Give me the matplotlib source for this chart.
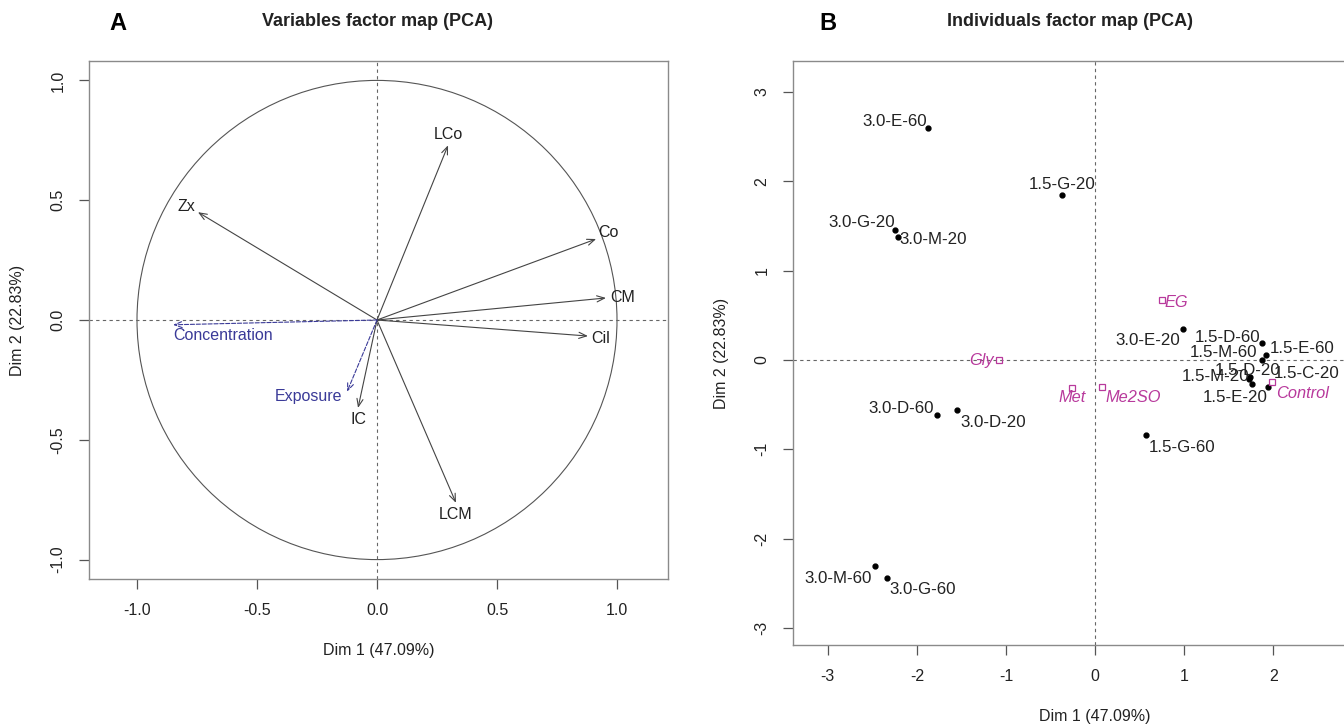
import matplotlib.pyplot as plt
from matplotlib.patches import Circle

plt.rcParams['font.family'] = ['Liberation Sans', 'DejaVu Sans']
plt.rcParams['axes.unicode_minus'] = False

# --- panel A: variables (correlation circle) ---
var_names = ['LCo', 'Zx', 'Co', 'CM', 'Cil', 'IC', 'LCM']
var_x = [0.296, -0.746, 0.913, 0.954, 0.879, -0.079, 0.329]
var_y = [0.729, 0.450, 0.338, 0.092, -0.067, -0.367, -0.763]

sup_names = ['Concentration', 'Exposure']
sup_x = [-0.85, -0.125]
sup_y = [-0.02, -0.30]

# --- panel B: individuals + supplementary categories ---
ind_names = ['3.0-E-60', '1.5-G-20', '3.0-G-20', '3.0-M-20', '3.0-D-60', '3.0-D-20',
             '1.5-G-60', '3.0-M-60', '3.0-G-60', '3.0-E-20', '1.5-D-60', '1.5-M-60',
             '1.5-E-60', '1.5-D-20', '1.5-M-20', '1.5-E-20', '1.5-C-20']
ind_x = [-1.87, -0.37, -2.24, -2.21, -1.77, -1.55, 0.57, -2.47, -2.33, 0.99, 1.88, 1.87,
         1.92, 1.74, 1.73, 1.76, 1.94]
ind_y = [2.60, 1.85, 1.46, 1.38, -0.62, -0.56, -0.84, -2.31, -2.44, 0.35, 0.19, 0.00,
         0.06, -0.19, -0.21, -0.27, -0.30]

cat_names = ['Gly', 'Met', 'Me2SO', 'EG', 'Control']
cat_x = [-1.08, -0.26, 0.08, 0.75, 1.99]
cat_y = [0.00, -0.31, -0.30, 0.67, -0.25]

# label offsets in pixels (dx, dy, ha, va)
var_off = {'LCo': (0, 3, 'center', 'bottom'), 'Zx': (-3, 6, 'right', 'center'),
           'Co': (2, 7, 'left', 'center'), 'CM': (4, 0, 'left', 'center'),
           'Cil': (3, -2, 'left', 'center'), 'IC': (0, -4, 'center', 'top'),
           'LCM': (0, -4, 'center', 'top')}
sup_off = {'Concentration': (0, -3, 'left', 'top'), 'Exposure': (-5, -5, 'right', 'center')}
ind_off = [(-34, 6), (0, 10), (-34, 7), (35, -3), (-36, 7), (36, -12), (36, -12), (-37, -12),
           (35, -12), (-35, -12), (-35, 6), (-38, 8), (36, 6), (-2, 6), (-34, 2), (-17, -13),
           (39, 13)]
cat_off = [(-17, 0), (0, -10), (31, -11), (14, -2), (30, -11)]

px = 0.72  # pixel -> point at dpi 100
spine_col = '#8a8a8a'
txt_col = '#222222'
magenta = '#b8399c'
blue = '#3a3a98'

fig = plt.figure(figsize=(13.44, 7.27), dpi=100)

axA = fig.add_axes([89 / 1344, 1 - 579 / 727, 579 / 1344, 518 / 727])
axB = fig.add_axes([793 / 1344, 1 - 645 / 727, 604 / 1344, 584 / 727])

for ax in (axA, axB):
    for s in ax.spines.values():
        s.set_color(spine_col)
        s.set_linewidth(1.0)
    ax.tick_params(direction='out', length=7, width=0.9, color='#555555', pad=10,
                   labelsize=11.5, labelcolor=txt_col)
    ax.axhline(0, color='#666666', lw=0.8, ls=(0, (3, 3)))
    ax.axvline(0, color='#666666', lw=0.8, ls=(0, (3, 3)))

# panel A
axA.set_xlim(-1.2, 1.2125)
axA.set_ylim(-1.081, 1.081)
axA.set_xticks([-1.0, -0.5, 0.0, 0.5, 1.0])
axA.set_xticklabels(['-1.0', '-0.5', '0.0', '0.5', '1.0'])
axA.set_yticks([-1.0, -0.5, 0.0, 0.5, 1.0])
axA.set_yticklabels(['-1.0', '-0.5', '0.0', '0.5', '1.0'], rotation=90, va='center')
axA.add_patch(Circle((0, 0), 1.0, fill=False, color='#555555', lw=0.8))

for n, x, y in zip(var_names, var_x, var_y):
    axA.annotate('', xy=(x, y), xytext=(0, 0),
                 arrowprops=dict(arrowstyle='->,head_length=0.55,head_width=0.22',
                                 color='#444444', lw=0.8, shrinkA=0, shrinkB=0))
    dx, dy, ha, va = var_off[n]
    axA.annotate(n, xy=(x, y), xytext=(dx * px, dy * px), textcoords='offset points',
                 ha=ha, va=va, fontsize=11.5, color=txt_col)

for n, x, y in zip(sup_names, sup_x, sup_y):
    axA.annotate('', xy=(x, y), xytext=(0, 0),
                 arrowprops=dict(arrowstyle='->,head_length=0.55,head_width=0.22',
                                 color=blue, lw=0.8, ls='--', shrinkA=0, shrinkB=0))
    dx, dy, ha, va = sup_off[n]
    axA.annotate(n, xy=(x, y), xytext=(dx * px, dy * px), textcoords='offset points',
                 ha=ha, va=va, fontsize=11.5, color=blue)

axA.set_xlabel('Dim 1 (47.09%)', fontsize=11.5, color=txt_col, labelpad=18)
axA.set_ylabel('Dim 2 (22.83%)', fontsize=11.5, color=txt_col, labelpad=18)

# panel B (right edge of the plot box runs past the figure, as in the original)
axB.set_xlim(-3.39, 3.39)
axB.set_ylim(-3.19, 3.347)
axB.set_xticks([-3, -2, -1, 0, 1, 2])
axB.set_yticks([-3, -2, -1, 0, 1, 2, 3])
axB.set_yticklabels(['-3', '-2', '-1', '0', '1', '2', '3'], rotation=90, va='center')

axB.plot(ind_x, ind_y, 'o', color='black', markersize=3.5, zorder=3)
for n, x, y, (dx, dy) in zip(ind_names, ind_x, ind_y, ind_off):
    axB.annotate(n, xy=(x, y), xytext=(dx * px, dy * px), textcoords='offset points',
                 ha='center', va='center', fontsize=12.2, color=txt_col)

axB.plot(cat_x, cat_y, 's', mfc='none', mec=magenta, mew=0.9, markersize=5, zorder=3)
for n, x, y, (dx, dy) in zip(cat_names, cat_x, cat_y, cat_off):
    axB.annotate(n, xy=(x, y), xytext=(dx * px, dy * px), textcoords='offset points',
                 ha='center', va='center', fontsize=11.8, color=magenta, style='italic')

axB.set_xlabel('Dim 1 (47.09%)', fontsize=11.5, color=txt_col, labelpad=18)
axB.set_ylabel('Dim 2 (22.83%)', fontsize=11.5, color=txt_col, labelpad=18)

# titles and panel letters
fig.text(377 / 1344, 1 - 22 / 727, 'Variables factor map (PCA)', ha='center', va='center',
         fontsize=13, fontweight='bold', color=txt_col)
fig.text(1070 / 1344, 1 - 22 / 727, 'Individuals factor map (PCA)', ha='center', va='center',
         fontsize=13, fontweight='bold', color=txt_col)
fig.text(118 / 1344, 1 - 24 / 727, 'A', ha='center', va='center', fontsize=17,
         fontweight='bold', color='black')
fig.text(828 / 1344, 1 - 24 / 727, 'B', ha='center', va='center', fontsize=17,
         fontweight='bold', color='black')

fig.savefig('out.png', dpi=100)
